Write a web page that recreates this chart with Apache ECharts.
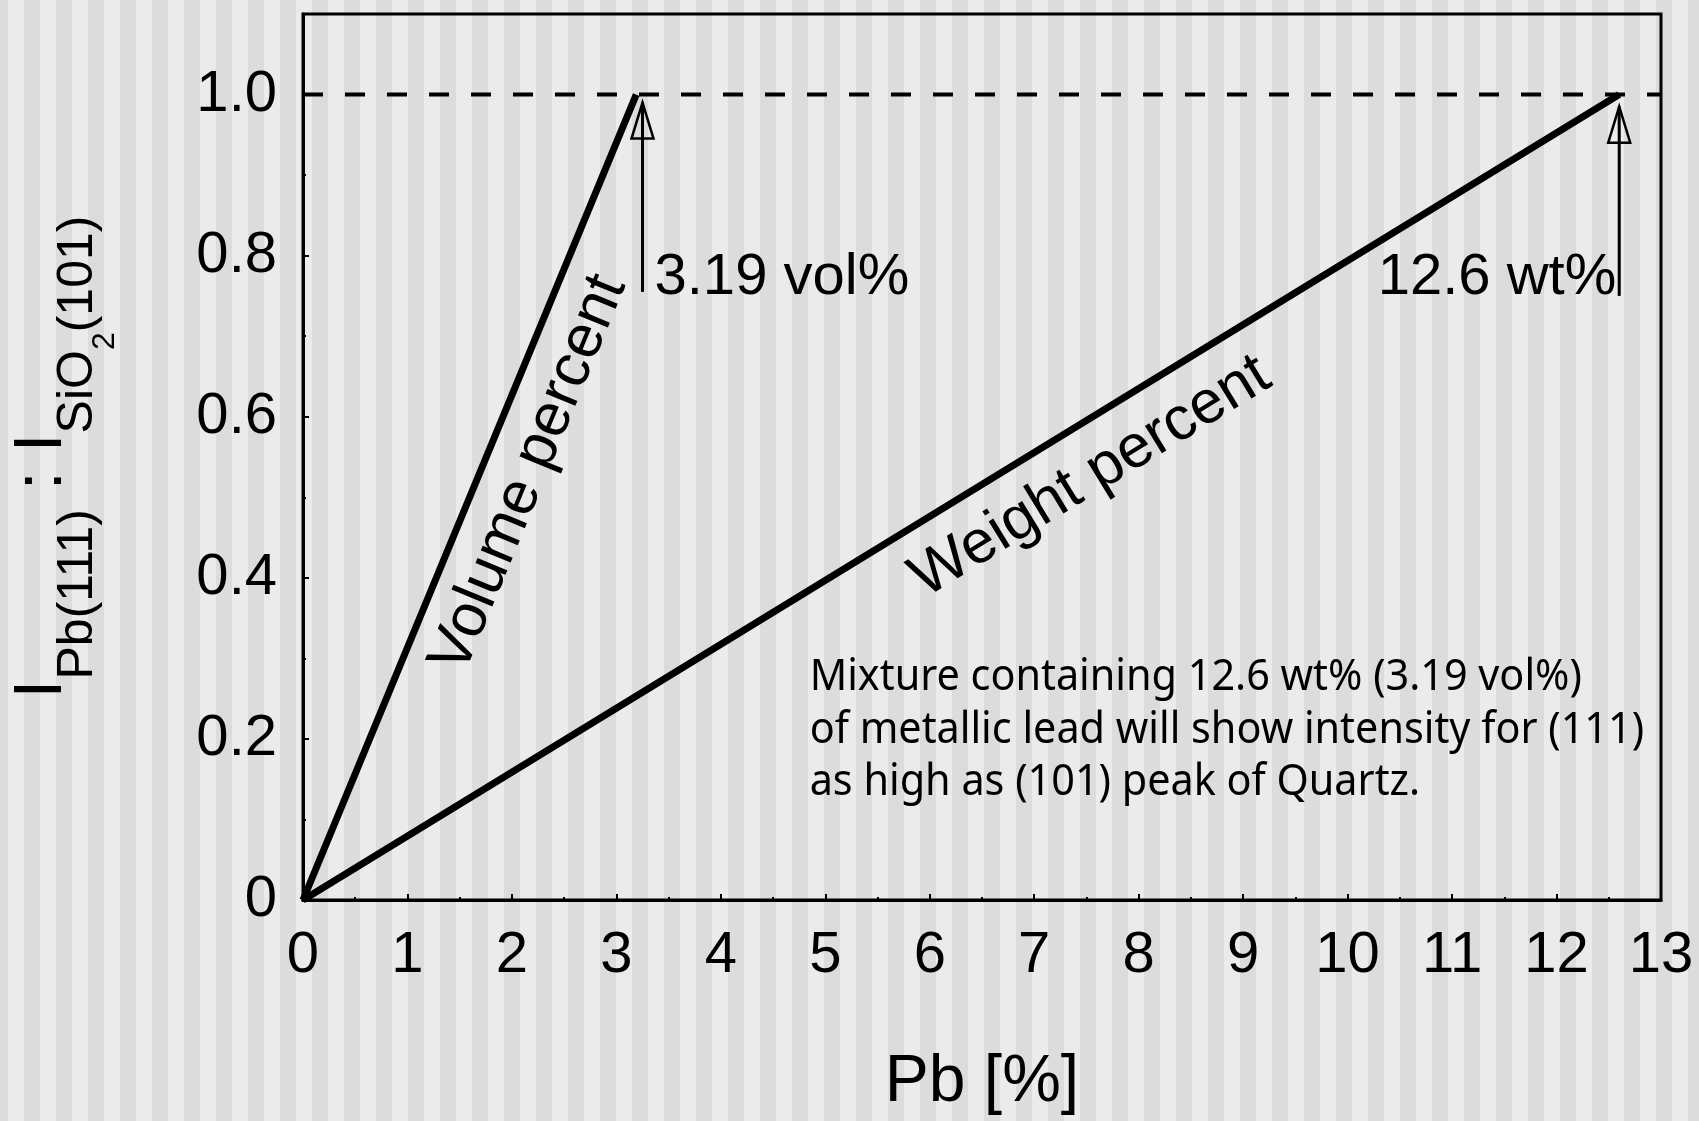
<!DOCTYPE html>
<html>
<head>
<meta charset="utf-8">
<title>Pb(111) : SiO2(101) intensity ratio</title>
<script src="https://cdn.jsdelivr.net/npm/echarts@6/dist/echarts.min.js"></script>
<style>
  html, body { margin: 0; padding: 0; }
  body {
    /* striped slide background */
    background: repeating-linear-gradient(90deg,
      #dcdcdc 0px, #dcdcdc 8px, #ebebeb 8px, #ebebeb 24px, #dcdcdc 24px, #dcdcdc 32px);
  }
  #chart { width: 1699px; height: 1121px; }
</style>
</head>
<body>
<div id="chart"></div>
<script>
// intensity ratio I(Pb 111) : I(SiO2 101) against Pb content
var volumeX = [0, 3.19];
var volumeY = [0, 1.0];
var weightX = [0, 12.6];
var weightY = [0, 1.0];
var levelX = [0, 13];
var levelY = [1.0, 1.0];

// arrows pointing at the ratio = 1 crossings
var arrowX = [3.25, 12.6];
var arrowFrom = [0.755, 0.75];
var arrowTo = [0.99, 0.985];
var arrowText = ['3.19 vol%', '12.6 wt%'];
var arrowTextY = [0.772, 0.772];

// text written along the two lines
var lineLabelText = ['Volume percent', 'Weight percent'];
var lineLabelX = [2.164, 7.54];
var lineLabelY = [0.529, 0.525];

// note in the lower right
var noteX = [4.85];
var noteY = [0.211];
var noteLines = [
  'Mixture containing 12.6 wt% (3.19 vol%)',
  'of metallic lead will show intensity for (111)',
  'as high as (101) peak of Quartz.'
];

var yTickLabels = ['0', '0.2', '0.4', '0.6', '0.8', '1.0'];

var FONT = '"Liberation Sans", Arial, sans-serif';

var lineSets = [
  { x: volumeX, y: volumeY },
  { x: weightX, y: weightY }
];

function pairs(xs, ys) {
  return xs.map(function (x, i) { return [x, ys[i]]; });
}

function renderArrow(params, api) {
  var i = params.dataIndex;
  var bottom = api.coord([api.value(0), api.value(1)]);
  var tip = api.coord([api.value(0), api.value(2)]);
  var label = api.coord([api.value(0), api.value(3)]);
  var headH = 36, headW = 11;
  var textRight = i === 0;
  return {
    type: 'group',
    children: [
      {
        type: 'line',
        shape: { x1: bottom[0], y1: bottom[1], x2: tip[0], y2: tip[1] },
        style: { stroke: '#000', lineWidth: 3 }
      },
      {
        type: 'polygon',
        shape: { points: [[tip[0], tip[1]], [tip[0] - headW, tip[1] + headH], [tip[0] + headW, tip[1] + headH]] },
        style: { fill: 'none', stroke: '#000', lineWidth: 2.5 }
      },
      {
        type: 'text',
        x: textRight ? bottom[0] + 12 : bottom[0] - 3,
        y: label[1],
        style: {
          text: arrowText[i], fontSize: 58, fontFamily: FONT, fill: '#000',
          align: textRight ? 'left' : 'right', verticalAlign: 'middle'
        }
      }
    ]
  };
}

function renderLineLabel(params, api) {
  var i = params.dataIndex;
  var src = lineSets[i];
  var a = api.coord([src.x[0], src.y[0]]);
  var b = api.coord([src.x[1], src.y[1]]);
  var angle = Math.atan2(a[1] - b[1], b[0] - a[0]);
  var p = api.coord([api.value(0), api.value(1)]);
  return {
    type: 'text',
    x: p[0], y: p[1], rotation: angle,
    style: {
      text: lineLabelText[i], fontSize: 61, fontFamily: FONT, fill: '#000',
      align: 'center', verticalAlign: 'middle'
    }
  };
}

function renderNote(params, api) {
  var p = api.coord([api.value(0), api.value(1)]);
  return {
    type: 'text',
    x: p[0], y: p[1], scaleX: 0.94,
    style: {
      text: noteLines.join('\n'), fontSize: 44, fontFamily: '"Noto Sans", sans-serif',
      fill: '#000', align: 'left', verticalAlign: 'middle', lineHeight: 52.5
    }
  };
}

var chart = echarts.init(document.getElementById('chart'), null, { renderer: 'canvas' });

var option = {
  backgroundColor: 'transparent',
  animation: false,
  textStyle: { fontFamily: FONT },
  grid: {
    left: 301, right: 38, top: 14, bottom: 218,
    show: true, borderColor: '#000', borderWidth: 3, backgroundColor: 'transparent'
  },
  xAxis: {
    type: 'value', min: 0, max: 13, interval: 1,
    name: 'Pb [%]', nameLocation: 'middle', nameGap: 150,
    nameTextStyle: { fontSize: 66, color: '#000', fontFamily: FONT },
    axisLine: { lineStyle: { color: '#000', width: 3 } },
    axisTick: { inside: true, length: 6, lineStyle: { color: '#000', width: 2 } },
    minorTick: { show: true, splitNumber: 2, length: 3, lineStyle: { color: '#000', width: 2 } },
    axisLabel: { fontSize: 58, color: '#000', margin: 27, fontFamily: FONT },
    splitLine: { show: false }
  },
  yAxis: [
    {
      type: 'value', min: 0, max: 1.1, interval: 0.2,
      name: '{m|I}{s|Pb(111)}{m| : I}{s|SiO}{ss|2}{s|(101)}',
      nameLocation: 'middle', nameRotate: 90, nameGap: 182,
      nameTextStyle: {
        color: '#000',
        rich: {
          m: { fontSize: 68, height: 68, fontFamily: FONT, color: '#000', verticalAlign: 'top' },
          s: { fontSize: 50, height: 50, fontFamily: FONT, color: '#000', verticalAlign: 'top', padding: [45, 0, 0, 0] },
          ss: { fontSize: 32, height: 32, fontFamily: FONT, color: '#000', verticalAlign: 'top', padding: [81, 0, 0, 0] }
        }
      },
      axisLine: { lineStyle: { color: '#000', width: 3 } },
      axisTick: { inside: true, length: 6, lineStyle: { color: '#000', width: 2 } },
      axisLabel: {
        fontSize: 58, color: '#000', margin: 26, fontFamily: FONT, showMaxLabel: false,
        formatter: function (v) {
          var k = Math.round(v / 0.2);
          return Math.abs(v - k * 0.2) < 1e-6 && yTickLabels[k] !== undefined ? yTickLabels[k] : '';
        }
      },
      splitLine: { show: false }
    },
    {
      // finer ticks every 0.1
      type: 'value', min: 0, max: 1.1, interval: 0.1, position: 'left',
      axisLine: { show: false },
      axisTick: { inside: true, length: 3, lineStyle: { color: '#000', width: 2 } },
      axisLabel: { show: false },
      splitLine: { show: false }
    }
  ],
  series: [
    {
      name: 'level', type: 'line', data: pairs(levelX, levelY),
      symbol: 'none', silent: true,
      lineStyle: { color: '#000', width: 4, type: [20, 22] }
    },
    {
      name: 'Volume percent', type: 'line', data: pairs(volumeX, volumeY),
      symbol: 'none', silent: true,
      lineStyle: { color: '#000', width: 7, cap: 'butt' }
    },
    {
      name: 'Weight percent', type: 'line', data: pairs(weightX, weightY),
      symbol: 'none', silent: true,
      lineStyle: { color: '#000', width: 7, cap: 'butt' }
    },
    {
      type: 'custom', silent: true, clip: false,
      data: arrowX.map(function (x, i) { return [x, arrowFrom[i], arrowTo[i], arrowTextY[i]]; }),
      encode: { x: 0, y: [1, 2] },
      renderItem: renderArrow
    },
    {
      type: 'custom', silent: true, clip: false,
      data: pairs(lineLabelX, lineLabelY),
      encode: { x: 0, y: 1 },
      renderItem: renderLineLabel
    },
    {
      type: 'custom', silent: true, clip: false,
      data: pairs(noteX, noteY),
      encode: { x: 0, y: 1 },
      renderItem: renderNote
    }
  ]
};

chart.setOption(option);
</script>
</body>
</html>
